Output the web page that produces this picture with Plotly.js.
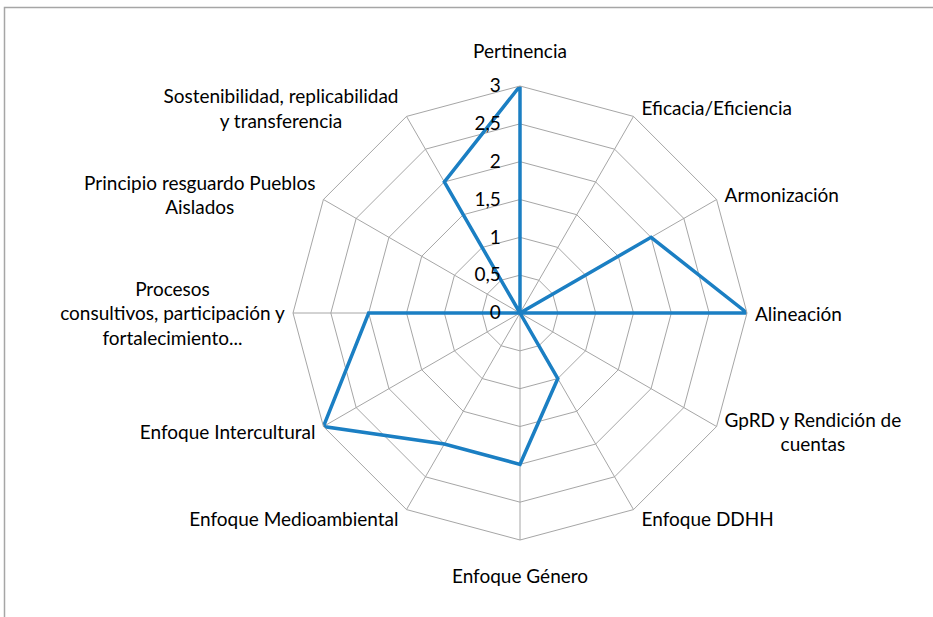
<!DOCTYPE html>
<html>
<head>
<meta charset="utf-8">
<script src="https://cdn.plot.ly/plotly-3.0.1.min.js"></script>
<style>
  body { margin: 0; background: #fff; }
  #chart { width: 933px; height: 617px; }
</style>
</head>
<body>
<div id="chart"></div>
<script>
// Categories, clockwise from the top
var categories = [
	'Pertinencia',
	'Eficacia/Eficiencia',
	'Armonización',
	'Alineación',
	'GpRD y Rendición de<br>cuentas',
	'Enfoque DDHH',
	'Enfoque Género',
	'Enfoque Medioambiental',
	'Enfoque Intercultural',
	'Procesos<br>consultivos, participación y<br>fortalecimiento...',
	'Principio resguardo Pueblos<br>Aislados',
	'Sostenibilidad, replicabilidad<br>y transferencia'
];

// Score per category
var scores = [3, 0, 2, 3, 0, 1, 2, 2, 3, 2, 0, 2];

// Radial ticks
var radial_ticks = [0, 0.5, 1, 1.5, 2, 2.5, 3];

var W = 933, H = 617;
var cx = 520, cy = 313, R = 227;

// close the polygon like Excel does
var theta = categories.concat([categories[0]]);
var r = scores.concat([scores[0]]);

var trace = {
	type: 'scatterpolar',
	mode: 'lines',
	r: r,
	theta: theta,
	line: { color: '#1b7fc3', width: 3.5 },
	hoverinfo: 'none',
	showlegend: false
};

var font_family = 'Lato, "Open Sans", sans-serif';

var layout = {
	width: W,
	height: H,
	margin: { l: 0, r: 0, t: 0, b: 0 },
	paper_bgcolor: '#ffffff',
	separators: ', ',
	font: { family: font_family, size: 19, color: '#000000' },
	showlegend: false,
	polar: {
		domain: {
			x: [(cx - R) / W, (cx + R) / W],
			y: [1 - (cy + R) / H, 1 - (cy - R) / H]
		},
		gridshape: 'linear',
		bgcolor: 'rgba(0,0,0,0)',
		angularaxis: {
			type: 'category',
			direction: 'clockwise',
			rotation: 90,
			showline: true,
			linecolor: '#a6a6a6',
			linewidth: 1,
			gridcolor: '#a6a6a6',
			gridwidth: 1,
			ticks: 'outside',
			ticklen: 10,
			tickcolor: 'rgba(0,0,0,0)',
			tickfont: { family: font_family, size: 19, color: '#000000' }
		},
		radialaxis: {
			range: [0, 3],
			angle: 90,
			tickangle: 90,
			side: 'counterclockwise',
			tickvals: radial_ticks,
			ticktext: radial_ticks.map(function (v) { return String(v).replace('.', ','); }),
			showline: false,
			gridcolor: '#a6a6a6',
			gridwidth: 1,
			ticks: 'outside',
			ticklen: 12,
			tickcolor: 'rgba(0,0,0,0)',
			tickfont: { family: font_family, size: 19, color: '#000000' }
		}
	},
	shapes: [{
		type: 'rect',
		xref: 'paper', yref: 'paper',
		x0: 4.5 / W, x1: 1.02,
		y0: -0.02, y1: 1 - 7.5 / H,
		line: { color: '#a6a6a6', width: 1.5 },
		fillcolor: 'rgba(0,0,0,0)'
	}]
};

// Excel centres the lines of a wrapped label, plotly aligns them to one side
function center_multiline_labels(gd){
	var texts = gd.querySelectorAll('svg text');
	texts.forEach(function(t){
		var lines = t.querySelectorAll('tspan.line');
		if (lines.length < 2) return;
		var box = t.getBBox();
		var mid = box.x + box.width / 2;
		t.setAttribute('text-anchor', 'middle');
		t.setAttribute('x', mid);
		lines.forEach(function(l){ l.setAttribute('x', mid); });
	});
	return gd;
}

// Excel puts side labels next to the spoke end (not out along the spoke),
// and top/bottom labels a bit further away. Nudge the plotly labels to match.
function place_category_labels(gd){
	var host = gd.getBoundingClientRect();
	var n = categories.length;
	var texts = gd.querySelectorAll('svg text');
	texts.forEach(function(t){
		var i = categories.map(function(c){ return c.replace(/<br>/g, ''); })
			.indexOf(t.textContent);
		if (i < 0) return;
		var ang = 2 * Math.PI * i / n;
		var vx = cx + R * Math.sin(ang);
		var vy = cy - R * Math.cos(ang);
		var b = t.getBoundingClientRect();
		var bx = b.left - host.left, by = b.top - host.top;
		var tx, ty;   // wanted top-left corner
		if (Math.abs(Math.sin(ang)) < 0.01){
			tx = vx - b.width / 2;
			ty = Math.cos(ang) > 0 ? vy - 24 - b.height : vy + 24;
		}
		else {
			tx = Math.sin(ang) > 0 ? vx + 8 : vx - 8 - b.width;
			ty = vy - 10 * Math.cos(ang) - b.height / 2;
		}
		var old = t.getAttribute('transform') || '';
		t.setAttribute('transform', 'translate(' + (tx - bx) + ',' + (ty - by) + ') ' + old);
	});
}

Plotly.newPlot('chart', [trace], layout, { displayModeBar: false, staticPlot: true })
	.then(center_multiline_labels)
	.then(place_category_labels);
</script>
</body>
</html>
